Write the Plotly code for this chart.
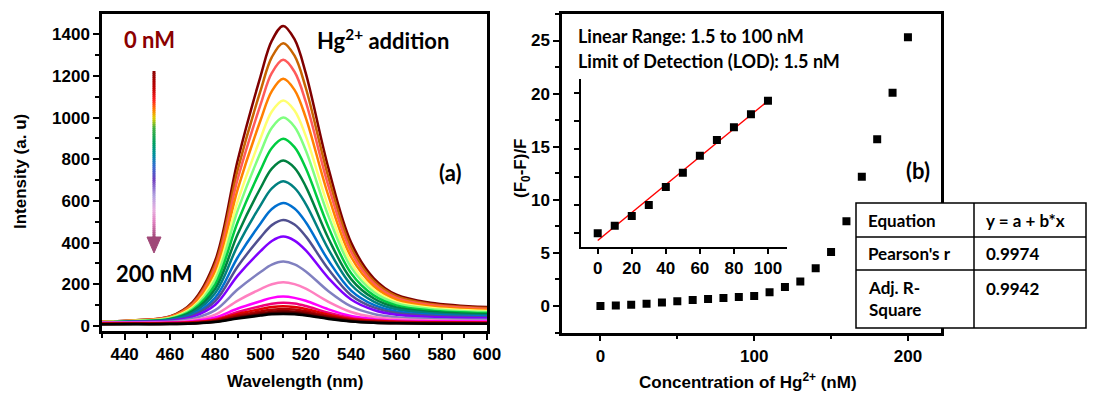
import numpy as np
import plotly.graph_objects as go

W, H = 1101, 394

# ---------------- Panel (a) data ----------------
wavelength = [430, 445, 460, 470, 480, 490, 500, 505, 510, 515, 520, 530, 540, 550, 560, 575, 600]

I_000 = [20, 28, 46, 115, 314, 799, 1198, 1369, 1440, 1376, 1212, 756, 400, 229, 150, 112, 91]
I_010 = [20, 27, 45, 109, 297, 753, 1129, 1290, 1357, 1297, 1142, 713, 377, 216, 143, 106, 86]
I_020 = [19, 26, 43, 103, 280, 709, 1062, 1214, 1277, 1220, 1075, 671, 356, 204, 135, 101, 82]
I_030 = [19, 26, 41, 97, 261, 659, 987, 1127, 1186, 1133, 999, 624, 331, 191, 126, 95, 77]
I_040 = [19, 25, 39, 90, 239, 602, 901, 1029, 1082, 1034, 911, 570, 303, 175, 116, 88, 72]
I_050 = [18, 24, 37, 84, 222, 557, 833, 951, 1000, 956, 842, 527, 281, 163, 109, 82, 67]
I_060 = [18, 23, 34, 77, 200, 501, 748, 854, 898, 858, 757, 474, 253, 147, 99, 75, 62]
I_070 = [18, 22, 32, 70, 179, 443, 662, 755, 794, 759, 669, 420, 225, 132, 89, 68, 56]
I_080 = [17, 21, 30, 63, 158, 388, 579, 660, 694, 663, 585, 368, 198, 117, 80, 61, 51]
I_090 = [17, 20, 28, 55, 136, 331, 492, 561, 590, 564, 498, 314, 170, 101, 70, 54, 46]
I_100 = [17, 19, 26, 50, 119, 287, 425, 484, 509, 487, 430, 272, 148, 89, 62, 49, 41]
I_110 = [16, 19, 24, 44, 102, 243, 359, 408, 429, 410, 363, 230, 127, 77, 54, 43, 37]
I_120 = [15, 17, 21, 35, 76, 176, 259, 294, 309, 296, 262, 167, 94, 58, 42, 34, 30]
I_130 = [15, 16, 18, 28, 55, 122, 177, 200, 210, 201, 179, 116, 67, 43, 33, 27, 24]
I_140 = [14, 15, 17, 23, 41, 84, 119, 135, 141, 135, 121, 80, 48, 33, 26, 23, 21]
I_150 = [12, 13, 14, 19, 33, 67, 95, 107, 112, 108, 96, 64, 39, 27, 22, 19, 17]
I_160 = [12, 13, 14, 18, 29, 58, 81, 91, 95, 91, 82, 55, 34, 25, 20, 18, 16]
I_170 = [10, 11, 12, 15, 25, 50, 70, 78, 82, 79, 71, 47, 29, 21, 17, 15, 14]
I_180 = [10, 11, 11, 14, 23, 44, 61, 69, 72, 69, 62, 42, 27, 19, 16, 14, 13]
I_190 = [8, 9, 9, 12, 20, 39, 54, 61, 64, 62, 55, 37, 23, 16, 13, 12, 11]
I_200 = [8, 8, 9, 12, 19, 36, 50, 56, 58, 56, 50, 34, 22, 16, 13, 11, 11]

spectra = [I_000, I_010, I_020, I_030, I_040, I_050, I_060, I_070, I_080, I_090, I_100,
           I_110, I_120, I_130, I_140, I_150, I_160, I_170, I_180, I_190, I_200]
spectra_names = [f"{c} nM" for c in range(0, 201, 10)]
spectra_colors = ['#800000', '#C86400', '#FF5A5A', '#FF8000', '#FFFF70', '#80FF80', '#00CC40',
                  '#008040', '#008080', '#0070D0', '#505090', '#8000FF', '#8080C0', '#FF80C0',
                  '#FF00FF', '#F0007A', '#E00000', '#B00000', '#800000', '#400000', '#000000']

# ---------------- Panel (b) data ----------------
conc = [0, 10, 20, 30, 40, 50, 60, 70, 80, 90, 100, 110, 120, 130, 140, 150, 160, 170, 180, 190, 200]
ratio = [0.0, 0.054, 0.124, 0.202, 0.331, 0.433, 0.554, 0.666, 0.757, 0.85, 0.947,
         1.28, 1.78, 2.31, 3.56, 5.09, 7.99, 12.18, 15.7, 20.08, 25.3]
n_lin = 11  # linear range points (0-100 nM)

table_rows = [("Equation", "y = a + b*x"), ("Pearson's r", "0.9974"), ("Adj. R-<br>Square", "0.9942")]


def px(x):
    return x / W


def py(y):
    return 1 - y / H


fig = go.Figure()

for ys, name, col in zip(spectra, spectra_names, spectra_colors):
    fig.add_trace(go.Scatter(x=wavelength, y=ys, name=name, mode='lines',
                             line=dict(color=col, width=2.5, shape='spline', smoothing=1.0),
                             xaxis='x', yaxis='y', showlegend=False, hoverinfo='skip'))

fig.add_trace(go.Scatter(x=conc, y=ratio, mode='markers',
                         marker=dict(symbol='square', size=8, color='black'),
                         xaxis='x2', yaxis='y2', showlegend=False))

slope, intercept = np.polyfit(conc[:n_lin], ratio[:n_lin], 1)
fit_x = [conc[0], conc[n_lin - 1]]
fit_y = [intercept + slope * v for v in fit_x]
fig.add_trace(go.Scatter(x=fit_x, y=fit_y, mode='lines', line=dict(color='#FF0000', width=1.5),
                         xaxis='x3', yaxis='y3', showlegend=False))
fig.add_trace(go.Scatter(x=conc[:n_lin], y=ratio[:n_lin], mode='markers',
                         marker=dict(symbol='square', size=8, color='black'),
                         xaxis='x3', yaxis='y3', showlegend=False))

tickfont = dict(family='Liberation Sans, Arial', size=17, color='black', weight='bold')
axis_common = dict(showline=True, linecolor='black', linewidth=2.5, ticks='outside', ticklen=6,
                   tickwidth=2, tickcolor='black', showgrid=False, zeroline=False,
                   tickfont=tickfont, automargin=False)

fig.update_layout(
    width=W, height=H, margin=dict(l=0, r=0, t=0, b=0),
    paper_bgcolor='white', plot_bgcolor='rgba(0,0,0,0)',
    xaxis=dict(domain=[px(102), px(487)], range=[430, 600], anchor='y', mirror=True,
               dtick=20, tick0=0, minor=dict(dtick=10, ticks='outside', ticklen=4, tickwidth=2, tickcolor='black'),
               **axis_common),
    yaxis=dict(domain=[py(331), py(14)], range=[-24, 1497], anchor='x', mirror=True,
               dtick=200, tick0=0, minor=dict(dtick=100, ticks='outside', ticklen=4, tickwidth=2, tickcolor='black'),
               **axis_common),
    xaxis2=dict(domain=[px(562), px(941)], range=[-25, 221.5], anchor='y2', mirror=True,
                dtick=100, tick0=0, minor=dict(dtick=50, ticks='outside', ticklen=4, tickwidth=2, tickcolor='black'),
                **axis_common),
    yaxis2=dict(domain=[py(332.5), py(14)], range=[-2.5, 27.5], anchor='x2', mirror=True,
                dtick=5, tick0=0, minor=dict(dtick=2.5, ticks='outside', ticklen=4, tickwidth=2, tickcolor='black'),
                **axis_common),
    xaxis3=dict(domain=[px(580.7), px(786.7)], range=[-10, 111], anchor='y3',
                showline=True, linecolor='black', linewidth=2, ticks='outside', ticklen=5, tickwidth=2,
                tickcolor='black', showgrid=False, zeroline=False, dtick=20, tick0=0,
                tickfont=tickfont, automargin=False),
    yaxis3=dict(domain=[py(246.7), py(79.3)], range=[-0.096, 1.1], anchor='x3',
                showline=True, linecolor='black', linewidth=2, ticks='outside', ticklen=5, tickwidth=2,
                tickcolor='black', showgrid=False, zeroline=False, dtick=0.2, tick0=0,
                showticklabels=False, automargin=False),
)

ann = []
cal = 'Lato, Open Sans, sans-serif'
ar = 'Liberation Sans, Arial'


def add_text(text, x, y, size, color='black', family=cal, xanchor='center', angle=0, bold=True):
    ann.append(dict(text=text, x=px(x), y=py(y), xref='paper', yref='paper', showarrow=False,
                    xanchor=xanchor, yanchor='middle', textangle=angle,
                    font=dict(family=family, size=size, color=color, weight='bold' if bold else 'normal')))


add_text('0 nM', 149, 40, 22, color='#8B0000')
add_text('200 nM', 154, 273, 22)
add_text('Hg<sup>2+</sup> addition', 383, 40, 22)
add_text('(a)', 450, 172, 22)
add_text('(b)', 918, 170, 22)
add_text('Linear Range: 1.5 to 100 nM', 576, 36, 18, xanchor='left')
add_text('Limit of Detection (LOD): 1.5 nM', 576, 61, 18, xanchor='left')
add_text('Intensity (a. u)', 20, 172, 17, family=ar, angle=-90)
add_text('Wavelength (nm)', 295, 381, 17, family=ar)
add_text('(F<sub>0</sub>-F)/F', 522, 168, 17, family=ar, angle=-90)
add_text('Concentration of Hg<sup>2+</sup> (nM)', 748, 381, 17, family=ar)

# table
tx0, tx1, tx2 = 856, 974, 1086
ty = [203, 237, 270, 328]
shapes = [dict(type='rect', xref='paper', yref='paper', x0=px(tx0), x1=px(tx2), y0=py(ty[0]), y1=py(ty[3]),
               fillcolor='white', line=dict(color='black', width=1.5), layer='above'),
          dict(type='line', xref='paper', yref='paper', x0=px(tx1), x1=px(tx1), y0=py(ty[0]), y1=py(ty[3]),
               line=dict(color='black', width=1.5), layer='above')]
for yy in ty[1:3]:
    shapes.append(dict(type='line', xref='paper', yref='paper', x0=px(tx0), x1=px(tx2), y0=py(yy), y1=py(yy),
                       line=dict(color='black', width=1.5), layer='above'))
for i, (k, v) in enumerate(table_rows):
    top = ty[i]
    if i < 2:
        yc = (ty[i] + ty[i + 1]) / 2
        add_text(k, tx0 + 10, yc, 17, xanchor='left')
        add_text(v, tx1 + 10, yc, 17, xanchor='left')
    else:
        ann.append(dict(text=k, x=px(tx0 + 10), y=py(top + 5), xref='paper', yref='paper', showarrow=False,
                        xanchor='left', yanchor='top', align='left',
                        font=dict(family=cal, size=17, color='black', weight='bold')))
        add_text(v, tx1 + 10, top + 18, 17, xanchor='left')

# gradient arrow (decoration)
stops = [(71, '#8B0000'), (88, '#C00000'), (100, '#FF2020'), (110, '#FF8000'), (118, '#E0D000'),
         (128, '#40B040'), (143, '#00A060'), (155, '#0090A0'), (165, '#3070D0'), (180, '#7040C0'),
         (195, '#B0A0E0'), (210, '#E8B0E0'), (222, '#E080C0'), (238, '#A04878')]


def hex2rgb(h):
    return tuple(int(h[i:i + 2], 16) for i in (1, 3, 5))


ax_x = 154
for (y0, c0), (y1, c1) in zip(stops[:-1], stops[1:]):
    r0, r1 = hex2rgb(c0), hex2rgb(c1)
    n = max(1, int((y1 - y0) / 2))
    for k in range(n):
        t = (k + 0.5) / n
        col = tuple(int(r0[j] + (r1[j] - r0[j]) * t) for j in range(3))
        ya = y0 + (y1 - y0) * k / n
        yb = y0 + (y1 - y0) * (k + 1) / n + 0.6
        shapes.append(dict(type='line', xref='paper', yref='paper', x0=px(ax_x), x1=px(ax_x),
                           y0=py(ya), y1=py(yb), line=dict(color='rgb(%d,%d,%d)' % col, width=3)))
shapes.append(dict(type='path', xref='paper', yref='paper',
                   path=f"M {px(147)},{py(237)} L {px(161)},{py(237)} L {px(154)},{py(253)} Z",
                   fillcolor='#A04878', line=dict(color='#A04878', width=1)))

fig.update_layout(annotations=ann, shapes=shapes)
fig.write_html("out.html")
